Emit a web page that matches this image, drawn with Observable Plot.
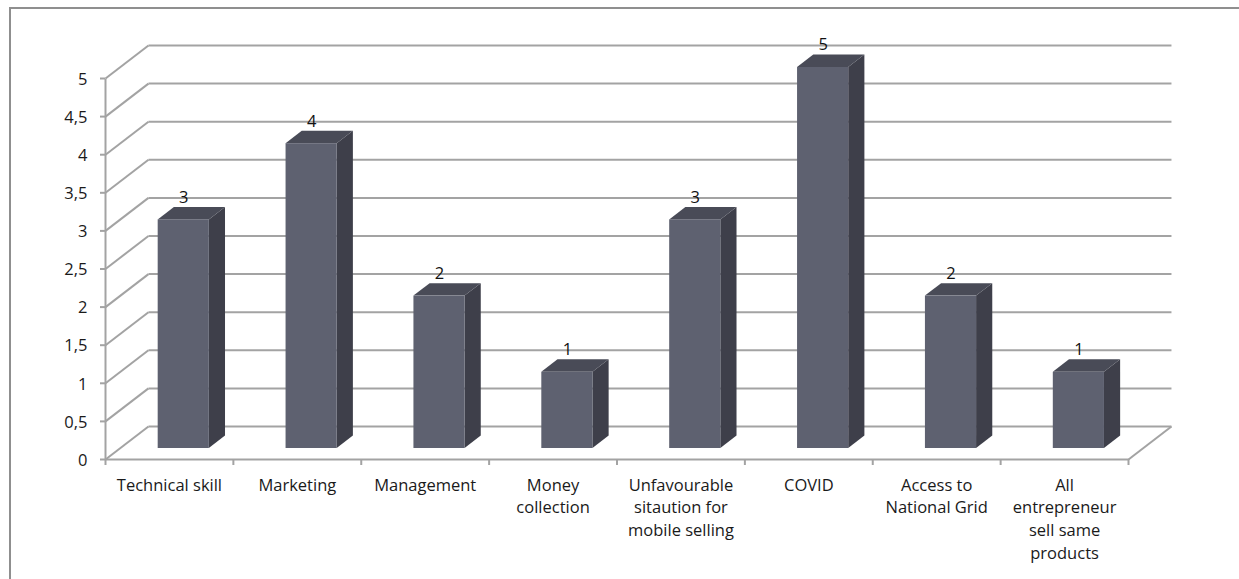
<!DOCTYPE html>
<html>
<head>
<meta charset="utf-8">
<script src="https://cdn.jsdelivr.net/npm/d3@7"></script>
<script src="https://cdn.jsdelivr.net/npm/@observablehq/plot@0.6"></script>
<style>
  html, body { margin: 0; padding: 0; background: #fff; overflow: hidden; }
  #frame { position: absolute; left: 9px; top: 7px; width: 1400px; height: 800px; border: 2px solid #8f8f8f; box-sizing: border-box; }
  #chart { position: absolute; left: 0; top: 0; }
</style>
</head>
<body>
<div id="frame"></div>
<div id="chart"></div>
<script>
// ---- data ----
const categories = [
  "Technical skill",
  "Marketing",
  "Management",
  "Money\ncollection",
  "Unfavourable\nsitaution for\nmobile selling",
  "COVID",
  "Access to\nNational Grid",
  "All\nentrepreneur\nsell same\nproducts"
];
const values = [3, 4, 2, 1, 3, 5, 2, 1];
const yTicks = [0, 0.5, 1, 1.5, 2, 2.5, 3, 3.5, 4, 4.5, 5];
const yTickLabels = ["0", "0,5", "1", "1,5", "2", "2,5", "3", "3,5", "4", "4,5", "5"];

// ---- 3D geometry (data units) ----
const n = categories.length;
const DX = 0.336, DY = 0.433;     // depth offset of back wall
const F1 = 1 / 3, F2 = 0.71;      // bar front / back depth fraction
const HALF = 0.2;                 // half bar width

const bars = categories.map((c, i) => {
  const cx = i + 0.5 + F1 * DX;
  return {c, v: values[i], xL: cx - HALF, xR: cx + HALF, cx, b: F1 * DY};
});
const dxB = (F2 - F1) * DX, dyB = (F2 - F1) * DY;
const sides = bars.flatMap(d => [
  {c: d.c, x: d.xR, y1: d.b, y2: d.b + d.v},
  {c: d.c, x: d.xR + dxB, y1: d.b + dyB, y2: d.b + d.v + dyB}
]);
const tops = bars.flatMap(d => [
  {c: d.c, y: d.b + d.v, x1: d.xL, x2: d.xR},
  {c: d.c, y: d.b + d.v + dyB, x1: d.xL + dxB, x2: d.xR + dxB}
]);

const grid = "#a3a3a3";
const fmt = d => yTickLabels[yTicks.indexOf(d)];

const plot = Plot.plot({
  width: 1239,
  height: 579,
  marginLeft: 105,
  marginRight: 111,
  marginTop: 78,
  marginBottom: 120,
  style: {fontFamily: "'Open Sans', sans-serif", fontSize: "16px", background: "transparent", overflow: "visible"},
  x: {domain: [0, n], type: "linear"},
  y: {domain: [0, 5]},
  marks: [
    // diagonals from y axis to back wall
    Plot.link(yTicks, {x1: 0, y1: d => d, x2: DX, y2: d => d + DY, stroke: grid, strokeWidth: 2}),
    // back wall gridlines
    Plot.link(yTicks, {x1: DX, y1: d => d + DY, x2: n + DX, y2: d => d + DY, stroke: grid, strokeWidth: 2}),
    // floor right edge
    Plot.link([0], {x1: n, y1: 0, x2: n + DX, y2: DY, stroke: grid, strokeWidth: 2}),
    // axis lines
    Plot.link([0], {x1: 0, y1: 0, x2: n, y2: 0, stroke: grid, strokeWidth: 2}),
    Plot.link([0], {x1: 0, y1: 0, x2: 0, y2: 5, stroke: grid, strokeWidth: 2}),
    // ticks
    Plot.axisY({ticks: yTicks, tickSize: 5, tickFormat: () => "", color: grid, strokeWidth: 2}),
    Plot.axisY({ticks: yTicks, tickSize: 0, tickPadding: 18, tickFormat: fmt, fill: "#1a1a1a", fontSize: 16.5, dy: 1}),
    Plot.axisX({ticks: d3.range(n + 1), tickSize: 6, tickFormat: () => "", color: grid, strokeWidth: 2}),
    // bars
    Plot.areaY(sides, {x: "x", y1: "y1", y2: "y2", z: "c", fill: "#3e3f4a"}),
    Plot.areaX(tops, {y: "y", x1: "x1", x2: "x2", z: "c", fill: "#494b57"}),
    Plot.rect(bars, {x1: "xL", x2: "xR", y1: "b", y2: d => d.b + d.v, fill: "#5e6170"}),
    // value labels
    Plot.text(bars, {x: "cx", y: d => d.v + F2 * DY, text: d => String(d.v), dy: -10, lineAnchor: "middle", fill: "#111", fontSize: 16.5}),
    // category labels
    Plot.text(categories, {x: (d, i) => i + 0.5, y: 0, text: d => d, dy: 15, lineAnchor: "top", lineHeight: 1.38, fill: "#1a1a1a", fontSize: 16.5})
  ]
});
document.getElementById("chart").appendChild(plot);
</script>
</body>
</html>
